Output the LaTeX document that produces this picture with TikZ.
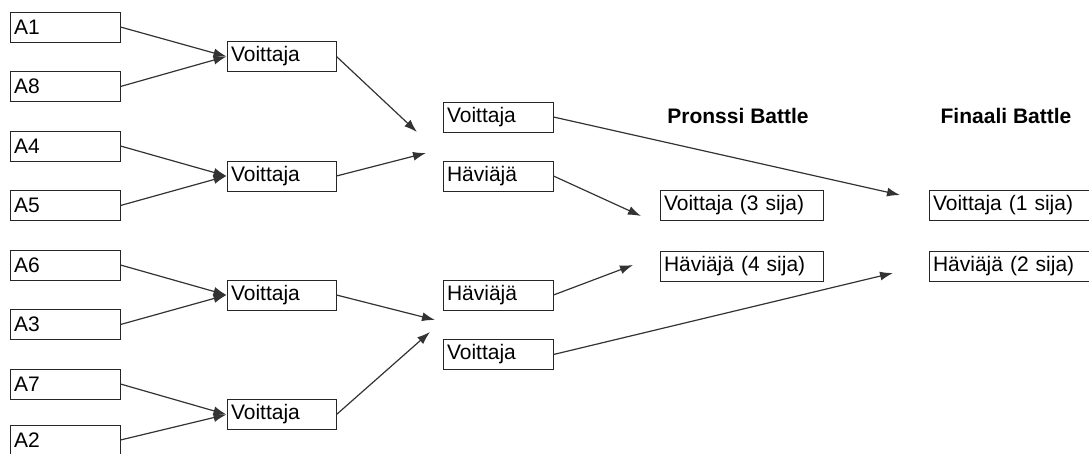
\documentclass[tikz,border=0pt]{standalone}
\usepackage{fontspec}
\setmainfont{Liberation Sans}
\usetikzlibrary{arrows.meta}

\begin{document}
\begin{tikzpicture}[x=1pt,y=1pt,
  box/.style={draw=black!85,line width=1pt,rectangle,minimum height=30pt,inner xsep=4pt,inner ysep=0pt,align=left,font=\fontsize{21}{24}\selectfont},
  link/.style={draw=black!80,line width=1.2pt,-{Latex[length=13pt,width=9pt]}},
  title/.style={font=\fontsize{21}{24}\selectfont\bfseries}]
\useasboundingbox (0,0) rectangle (1089,-453);
% first round
\node [box,text width=102pt] (a1) at (65,-27) {A1};
\node [box,text width=102pt] (a8) at (65,-86.5) {A8};
\node [box,text width=102pt] (a4) at (65,-146) {A4};
\node [box,text width=102pt] (a5) at (65,-205.5) {A5};
\node [box,text width=102pt] (a6) at (65,-265) {A6};
\node [box,text width=102pt] (a3) at (65,-324.5) {A3};
\node [box,text width=102pt] (a7) at (65,-384) {A7};
\node [box,text width=102pt] (a2) at (65,-440) {A2};
% quarter finals
\node [box,text width=101pt] (v1) at (281.5,-56.5) {Voittaja};
\node [box,text width=101pt] (v2) at (281.5,-176) {Voittaja};
\node [box,text width=101pt] (v3) at (281.5,-295) {Voittaja};
\node [box,text width=101pt] (v4) at (281.5,-414.5) {Voittaja};
% semi finals
\node [box,text width=102pt] (s1) at (498,-117) {Voittaja};
\node [box,text width=102pt] (s2) at (498,-176) {Häviäjä};
\node [box,text width=102pt] (s3) at (498,-295) {Häviäjä};
\node [box,text width=102pt] (s4) at (498,-354.5) {Voittaja};
% battles
\node [title] (pt) at (738,-116) {Pronssi Battle};
\node [title] (ft) at (1006,-116) {Finaali Battle};
\node [box,text width=155pt] (p1) at (741.5,-205.5) {Voittaja (3 sija)};
\node [box,text width=155pt] (p2) at (741.5,-266) {Häviäjä (4 sija)};
\node [box,text width=155pt] (f1) at (1010.5,-205.5) {Voittaja (1 sija)};
\node [box,text width=155pt] (f2) at (1010.5,-266) {Häviäjä (2 sija)};
% free arrow ends
\coordinate (j1) at (417,-132);
\coordinate (j2) at (426,-153);
\coordinate (j3) at (435,-320);
\coordinate (j4) at (430,-332);
\coordinate (pj1) at (641,-216);
\coordinate (pj2) at (633,-265);
\coordinate (fj1) at (900,-195);
\coordinate (fj2) at (893,-273);
% connectors
\draw [link] (a1.east) -- (v1.west);
\draw [link] (a8.east) -- (v1.west);
\draw [link] (a4.east) -- (v2.west);
\draw [link] (a5.east) -- (v2.west);
\draw [link] (a6.east) -- (v3.west);
\draw [link] (a3.east) -- (v3.west);
\draw [link] (a7.east) -- (v4.west);
\draw [link] (a2.east) -- (v4.west);
\draw [link] (v1.east) -- (j1);
\draw [link] (v2.east) -- (j2);
\draw [link] (v3.east) -- (j3);
\draw [link] (v4.east) -- (j4);
\draw [link] (s2.east) -- (pj1);
\draw [link] (s3.east) -- (pj2);
\draw [link] (s1.east) -- (fj1);
\draw [link] (s4.east) -- (fj2);
\end{tikzpicture}
\end{document}
